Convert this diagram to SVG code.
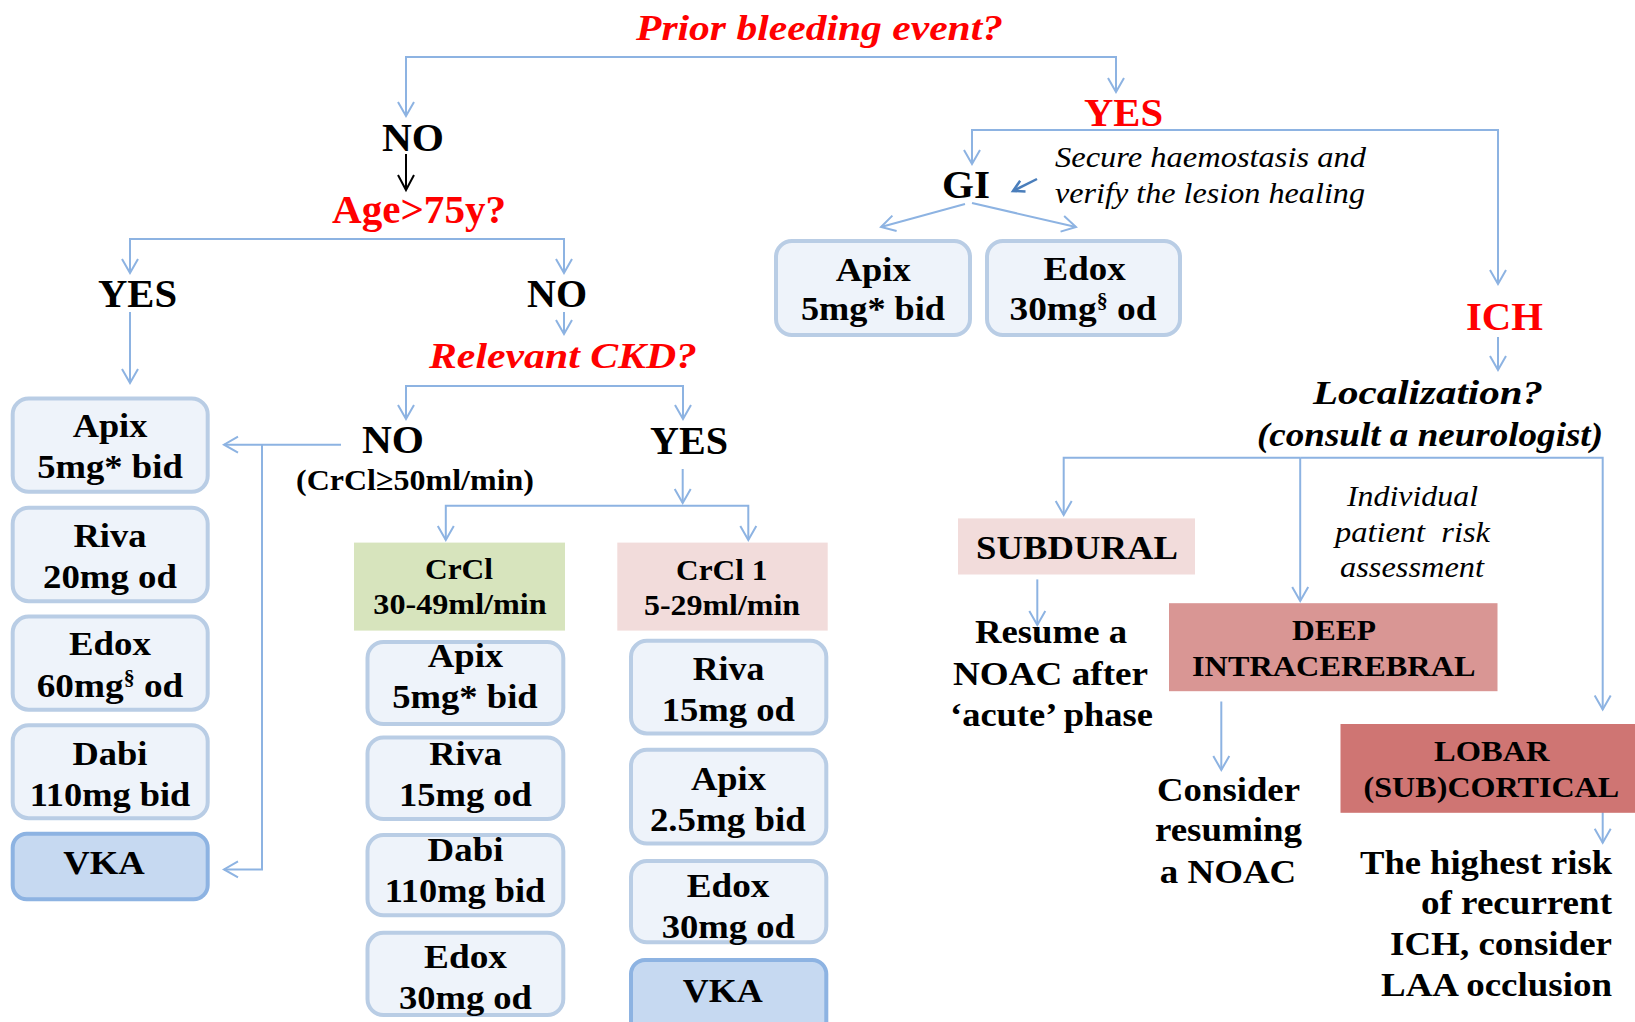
<svg xmlns="http://www.w3.org/2000/svg" width="1635" height="1022" viewBox="0 0 1635 1022">
<style>
.t{font-family:'Liberation Serif','Times New Roman',serif;font-weight:bold;fill:#000;text-anchor:middle}
.red{fill:#ff0000}
.it{font-style:italic}
.reg{font-weight:normal}
.f40{font-size:40px}
.f36{font-size:36px}
.f34{font-size:34px}
.f33{font-size:33px}
.f30{font-size:30px}
.f29{font-size:29px}
.end{text-anchor:end}
.start{text-anchor:start}
.c{fill:none;stroke:#8db3e2;stroke-width:2}
.box{fill:#eef3fa;stroke:#b9cde5;stroke-width:4}
.vka{fill:#c6d9f1;stroke:#8db3e2;stroke-width:4}
</style>
<defs>
<marker id="a" markerUnits="userSpaceOnUse" viewBox="-16 -10 18 20" markerWidth="18" markerHeight="20" refX="0" refY="0" orient="auto" overflow="visible">
<path d="M-14,-8 L0,0 L-14,8" fill="none" stroke="#8db3e2" stroke-width="2"/>
</marker>
<marker id="ak" markerUnits="userSpaceOnUse" viewBox="-16 -10 18 20" markerWidth="18" markerHeight="20" refX="0" refY="0" orient="auto" overflow="visible">
<path d="M-15,-8 L0,0 L-15,8" fill="none" stroke="#000" stroke-width="2"/>
</marker>
<marker id="ad" markerUnits="userSpaceOnUse" viewBox="-16 -10 18 20" markerWidth="18" markerHeight="20" refX="0" refY="0" orient="auto" overflow="visible">
<path d="M-11,-6 L0,0 L-11,6" fill="none" stroke="#4a7ebb" stroke-width="2.5"/>
</marker>
</defs>
<rect width="1635" height="1022" fill="#fff"/>

<g id="connectors">
<path class="c" d="M761,57 H406 V116" marker-end="url(#a)"/>
<path class="c" d="M761,57 H1116 V92" marker-end="url(#a)"/>
<path d="M406,154 V190" fill="none" stroke="#000" stroke-width="2" marker-end="url(#ak)"/>
<path class="c" d="M350,239 H130 V273" marker-end="url(#a)"/>
<path class="c" d="M350,239 H564 V273" marker-end="url(#a)"/>
<path class="c" d="M130,312 V383" marker-end="url(#a)"/>
<path class="c" d="M564,312 V334" marker-end="url(#a)"/>
<path class="c" d="M545,386 H406 V419" marker-end="url(#a)"/>
<path class="c" d="M545,386 H683 V419" marker-end="url(#a)"/>
<path class="c" d="M341,444.7 H224" marker-end="url(#a)"/>
<path class="c" d="M262,444.7 V869.4 H224" marker-end="url(#a)"/>
<path class="c" d="M682.7,469 V503" marker-end="url(#a)"/>
<path class="c" d="M600,505.7 H445.8 V540" marker-end="url(#a)"/>
<path class="c" d="M600,505.7 H748.3 V540" marker-end="url(#a)"/>
<path class="c" d="M1235,130 H972 V164" marker-end="url(#a)"/>
<path class="c" d="M1235,130 H1498 V284" marker-end="url(#a)"/>
<path class="c" d="M965,204 L881,227" marker-end="url(#a)"/>
<path class="c" d="M972,203 L1076,227" marker-end="url(#a)"/>
<path d="M1037,179 L1013,191" fill="none" stroke="#4a7ebb" stroke-width="2.5" marker-end="url(#ad)"/>
<path class="c" d="M1498,337 V370" marker-end="url(#a)"/>
<path class="c" d="M1300.2,457.8 H1063.7 V515" marker-end="url(#a)"/>
<path class="c" d="M1300.2,457.8 V601" marker-end="url(#a)"/>
<path class="c" d="M1300.2,457.8 H1602.7 V709.6" marker-end="url(#a)"/>
<path class="c" d="M1037.3,579.4 V625" marker-end="url(#a)"/>
<path class="c" d="M1221.3,701.5 V770" marker-end="url(#a)"/>
<path class="c" d="M1602.7,809 V842.7" marker-end="url(#a)"/>
</g>

<g id="n-title"><text class="t red it f36" x="819.5" y="40" textLength="367" lengthAdjust="spacingAndGlyphs">Prior bleeding event?</text></g>
<g id="n-no1"><text class="t f40" x="413" y="151" textLength="62" lengthAdjust="spacingAndGlyphs">NO</text></g>
<g id="n-age"><text class="t red f40" x="419" y="223" textLength="174" lengthAdjust="spacingAndGlyphs">Age&gt;75y?</text></g>
<g id="n-yes-age"><text class="t f40" x="137.5" y="307" textLength="79" lengthAdjust="spacingAndGlyphs">YES</text></g>
<g id="n-no-age"><text class="t f40" x="557" y="307" textLength="60" lengthAdjust="spacingAndGlyphs">NO</text></g>
<g id="n-ckd"><text class="t red it f36" x="563" y="368" textLength="268" lengthAdjust="spacingAndGlyphs">Relevant CKD?</text></g>
<g id="n-no-ckd">
<text class="t f40" x="393" y="453" textLength="62" lengthAdjust="spacingAndGlyphs">NO</text>
<text class="t f30" x="415" y="489.5" textLength="238" lengthAdjust="spacingAndGlyphs">(CrCl≥50ml/min)</text>
</g>
<g id="n-yes-ckd"><text class="t f40" x="689" y="454" textLength="78" lengthAdjust="spacingAndGlyphs">YES</text></g>

<g id="n-l-apix"><rect class="box" x="12.7" y="398.4" width="195" height="93.4" rx="16"/>
<text class="t f34" x="110" y="436.5" textLength="74.6" lengthAdjust="spacingAndGlyphs">Apix</text>
<text class="t f34" x="110" y="477.5" textLength="145.5" lengthAdjust="spacingAndGlyphs">5mg* bid</text></g>
<g id="n-l-riva"><rect class="box" x="12.7" y="507.7" width="195" height="93.5" rx="16"/>
<text class="t f34" x="110" y="547" textLength="73" lengthAdjust="spacingAndGlyphs">Riva</text>
<text class="t f34" x="110" y="588" textLength="134" lengthAdjust="spacingAndGlyphs">20mg od</text></g>
<g id="n-l-edox"><rect class="box" x="12.7" y="616.6" width="195" height="93.1" rx="16"/>
<text class="t f34" x="110" y="655" textLength="82" lengthAdjust="spacingAndGlyphs">Edox</text>
<text class="t f34" x="110" y="697" textLength="146.6" lengthAdjust="spacingAndGlyphs">60mg<tspan font-size="20" baseline-shift="60%">§</tspan> od</text></g>
<g id="n-l-dabi"><rect class="box" x="12.7" y="725.2" width="195" height="93" rx="16"/>
<text class="t f34" x="110" y="765" textLength="75" lengthAdjust="spacingAndGlyphs">Dabi</text>
<text class="t f34" x="110" y="806" textLength="160.7" lengthAdjust="spacingAndGlyphs">110mg bid</text></g>
<g id="n-l-vka"><rect class="vka" x="12.7" y="833.7" width="195" height="65.6" rx="14"/>
<text class="t f34" x="104" y="873.5" textLength="81.5" lengthAdjust="spacingAndGlyphs">VKA</text></g>

<g id="n-crcl-30"><rect x="354" y="542.6" width="211" height="88" fill="#d7e4bd"/>
<text class="t f30" x="459" y="579" textLength="68" lengthAdjust="spacingAndGlyphs">CrCl</text>
<text class="t f30" x="460" y="614" textLength="173.4" lengthAdjust="spacingAndGlyphs">30-49ml/min</text></g>
<g id="n-crcl-15"><rect x="617.3" y="542.6" width="210.4" height="88" fill="#f2dcdb"/>
<text class="t f30" x="721.7" y="579.8" textLength="91.3" lengthAdjust="spacingAndGlyphs">CrCl 1</text>
<text class="t f30" x="722" y="615" textLength="156" lengthAdjust="spacingAndGlyphs">5-29ml/min</text></g>

<g id="n-m-apix"><rect class="box" x="367.5" y="642" width="195.8" height="82" rx="16"/>
<text class="t f34" x="465.5" y="666.7" textLength="75.4" lengthAdjust="spacingAndGlyphs">Apix</text>
<text class="t f34" x="465" y="707.6" textLength="145.4" lengthAdjust="spacingAndGlyphs">5mg* bid</text></g>
<g id="n-m-riva"><rect class="box" x="367.5" y="737.4" width="195.8" height="81.6" rx="16"/>
<text class="t f34" x="465.5" y="765" textLength="72.7" lengthAdjust="spacingAndGlyphs">Riva</text>
<text class="t f34" x="465.4" y="806" textLength="133" lengthAdjust="spacingAndGlyphs">15mg od</text></g>
<g id="n-m-dabi"><rect class="box" x="367.5" y="835" width="195.8" height="80.3" rx="16"/>
<text class="t f34" x="465.5" y="861" textLength="75.8" lengthAdjust="spacingAndGlyphs">Dabi</text>
<text class="t f34" x="465" y="902" textLength="160.7" lengthAdjust="spacingAndGlyphs">110mg bid</text></g>
<g id="n-m-edox"><rect class="box" x="367.5" y="932.8" width="195.8" height="82.2" rx="16"/>
<text class="t f34" x="465.5" y="967.6" textLength="83" lengthAdjust="spacingAndGlyphs">Edox</text>
<text class="t f34" x="465.4" y="1008.6" textLength="133" lengthAdjust="spacingAndGlyphs">30mg od</text></g>

<g id="n-r-riva"><rect class="box" x="631" y="640.8" width="195.3" height="92.6" rx="16"/>
<text class="t f34" x="728.5" y="680" textLength="71.6" lengthAdjust="spacingAndGlyphs">Riva</text>
<text class="t f34" x="728.3" y="721" textLength="133.3" lengthAdjust="spacingAndGlyphs">15mg od</text></g>
<g id="n-r-apix"><rect class="box" x="631" y="749.7" width="195.3" height="93.9" rx="16"/>
<text class="t f34" x="728.5" y="789.5" textLength="75" lengthAdjust="spacingAndGlyphs">Apix</text>
<text class="t f34" x="727.8" y="830.5" textLength="155.7" lengthAdjust="spacingAndGlyphs">2.5mg bid</text></g>
<g id="n-r-edox"><rect class="box" x="631" y="861" width="195.3" height="81.3" rx="16"/>
<text class="t f34" x="728" y="896.8" textLength="82.7" lengthAdjust="spacingAndGlyphs">Edox</text>
<text class="t f34" x="728.3" y="937.7" textLength="133.3" lengthAdjust="spacingAndGlyphs">30mg od</text></g>
<g id="n-r-vka"><rect class="vka" x="631" y="960" width="195.3" height="80" rx="14"/>
<text class="t f34" x="722.7" y="1002.4" textLength="80" lengthAdjust="spacingAndGlyphs">VKA</text></g>

<g id="n-yes-bleed"><text class="t red f40" x="1123.5" y="126" textLength="79" lengthAdjust="spacingAndGlyphs">YES</text></g>
<g id="n-gi"><text class="t f40" x="966" y="198" textLength="48" lengthAdjust="spacingAndGlyphs">GI</text></g>
<g id="n-secure">
<text class="t reg it f30 start" x="1055" y="167" textLength="311" lengthAdjust="spacingAndGlyphs">Secure haemostasis and</text>
<text class="t reg it f30 start" x="1055" y="203" textLength="310" lengthAdjust="spacingAndGlyphs">verify the lesion healing</text>
</g>
<g id="n-gi-apix"><rect class="box" x="776" y="241" width="194" height="94" rx="16"/>
<text class="t f34" x="873.2" y="281" textLength="75" lengthAdjust="spacingAndGlyphs">Apix</text>
<text class="t f34" x="873" y="320" textLength="144" lengthAdjust="spacingAndGlyphs">5mg* bid</text></g>
<g id="n-gi-edox"><rect class="box" x="987" y="241" width="193" height="94" rx="16"/>
<text class="t f34" x="1084.6" y="279.5" textLength="82" lengthAdjust="spacingAndGlyphs">Edox</text>
<text class="t f34" x="1083" y="320" textLength="147" lengthAdjust="spacingAndGlyphs">30mg<tspan font-size="20" baseline-shift="60%">§</tspan> od</text></g>

<g id="n-ich"><text class="t red f40" x="1504.5" y="330" textLength="77" lengthAdjust="spacingAndGlyphs">ICH</text></g>
<g id="n-loc">
<text class="t it f33" x="1428" y="404" textLength="230" lengthAdjust="spacingAndGlyphs">Localization?</text>
<text class="t it f33" x="1430" y="446" textLength="346" lengthAdjust="spacingAndGlyphs">(consult a neurologist)</text>
</g>
<g id="n-subdural"><rect x="958" y="518.4" width="237" height="56.1" fill="#f2dcdb"/>
<text class="t f34" x="1077" y="559" textLength="202" lengthAdjust="spacingAndGlyphs">SUBDURAL</text></g>
<g id="n-resume">
<text class="t f34" x="1051" y="643" textLength="152" lengthAdjust="spacingAndGlyphs">Resume a</text>
<text class="t f34" x="1050.5" y="685" textLength="195" lengthAdjust="spacingAndGlyphs">NOAC after</text>
<text class="t f34" x="1051.5" y="726" textLength="203" lengthAdjust="spacingAndGlyphs">‘acute’ phase</text>
</g>
<g id="n-individual">
<text class="t reg it f29" x="1412.5" y="506" textLength="131" lengthAdjust="spacingAndGlyphs">Individual</text>
<text class="t reg it f29" x="1412.5" y="541.7" textLength="155" lengthAdjust="spacingAndGlyphs" xml:space="preserve">patient  risk</text>
<text class="t reg it f29" x="1412" y="577" textLength="144" lengthAdjust="spacingAndGlyphs">assessment</text>
</g>
<g id="n-deep"><rect x="1169" y="603.2" width="328.5" height="88" fill="#d99694"/>
<text class="t f30" x="1334" y="640" textLength="84" lengthAdjust="spacingAndGlyphs">DEEP</text>
<text class="t f30" x="1333.8" y="675.7" textLength="283.5" lengthAdjust="spacingAndGlyphs">INTRACEREBRAL</text></g>
<g id="n-consider">
<text class="t f34" x="1228.5" y="801" textLength="143" lengthAdjust="spacingAndGlyphs">Consider</text>
<text class="t f34" x="1228.5" y="841" textLength="147" lengthAdjust="spacingAndGlyphs">resuming</text>
<text class="t f34" x="1228" y="883" textLength="136.5" lengthAdjust="spacingAndGlyphs">a NOAC</text>
</g>
<g id="n-lobar"><rect x="1340.5" y="724" width="294.5" height="88.8" fill="#cf7573"/>
<text class="t f30" x="1491.8" y="760.8" textLength="115.5" lengthAdjust="spacingAndGlyphs">LOBAR</text>
<text class="t f30" x="1491.4" y="797" textLength="255.6" lengthAdjust="spacingAndGlyphs">(SUB)CORTICAL</text></g>
<g id="n-highest">
<text class="t f34 end" x="1612" y="873.5" textLength="252" lengthAdjust="spacingAndGlyphs">The highest risk</text>
<text class="t f34 end" x="1612" y="914.4" textLength="191" lengthAdjust="spacingAndGlyphs">of recurrent</text>
<text class="t f34 end" x="1612" y="955.3" textLength="222" lengthAdjust="spacingAndGlyphs">ICH, consider</text>
<text class="t f34 end" x="1612" y="996.3" textLength="231" lengthAdjust="spacingAndGlyphs">LAA occlusion</text>
</g>
</svg>
